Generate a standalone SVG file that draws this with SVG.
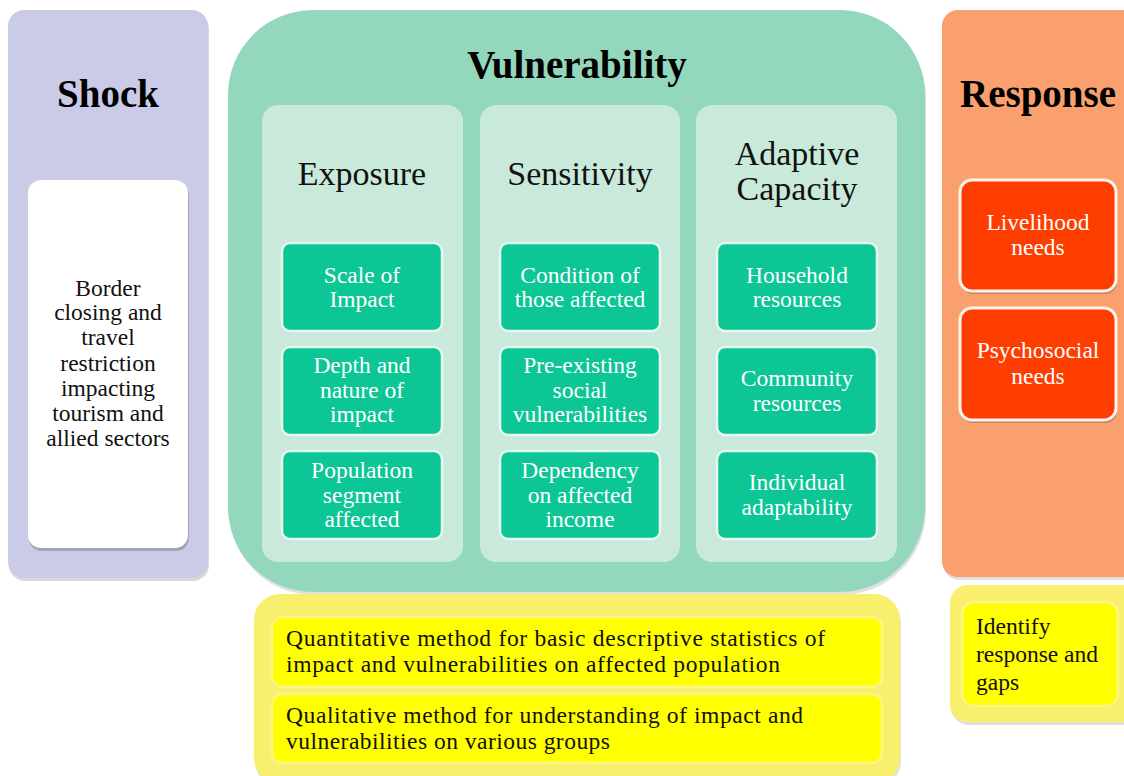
<svg xmlns="http://www.w3.org/2000/svg" width="1124" height="776" viewBox="0 0 1124 776">
<g id="shock">
<rect x="9" y="13" width="200" height="568" rx="16" fill="#000" opacity="0.15"/>
<rect x="8" y="10" width="200" height="568" rx="16" fill="#cacbe6"/>
<text x="108" y="107" font-family="Liberation Serif" font-size="39" font-weight="bold" text-anchor="middle" fill="#000">Shock</text>
<rect x="29" y="183" width="160" height="368" rx="13" fill="#000" opacity="0.2"/>
<rect x="28" y="180" width="160" height="368" rx="13" fill="#fff"/>
<g font-family="Liberation Serif" font-size="23.5" text-anchor="middle" fill="#111">
<text x="108" y="296" font-family="Liberation Serif">Border</text>
<text x="108" y="320" font-family="Liberation Serif">closing and</text>
<text x="108" y="345" font-family="Liberation Serif">travel</text>
<text x="108" y="371" font-family="Liberation Serif">restriction</text>
<text x="108" y="396" font-family="Liberation Serif">impacting</text>
<text x="108" y="421" font-family="Liberation Serif">tourism and</text>
<text x="108" y="446" font-family="Liberation Serif">allied sectors</text>
</g>
</g>
<g id="vulnerability">
<rect x="229" y="13" width="697" height="582" rx="85" fill="#000" opacity="0.12"/>
<rect x="228" y="10" width="697" height="582" rx="85" fill="#93d7bc"/>
<text x="577" y="78" font-family="Liberation Serif" font-size="39" font-weight="bold" text-anchor="middle" fill="#000">Vulnerability</text>
</g>
<g id="exposure" font-family="Liberation Serif" font-size="23.5" text-anchor="middle" fill="#fff">
<rect x="262" y="105" width="201" height="457" rx="16" fill="#c9eadb"/>
<text x="362" y="185" font-family="Liberation Serif" font-size="34" fill="#111">Exposure</text>
<rect x="282" y="243" width="160" height="88" rx="8" fill="#0cc696" stroke="#e6f7ef" stroke-width="2.5"/>
<text x="362" y="283" font-family="Liberation Serif">Scale of</text>
<text x="362" y="307" font-family="Liberation Serif">Impact</text>
<rect x="282" y="347" width="160" height="88" rx="8" fill="#0cc696" stroke="#e6f7ef" stroke-width="2.5"/>
<text x="362" y="373" font-family="Liberation Serif">Depth and</text>
<text x="362" y="398" font-family="Liberation Serif">nature of</text>
<text x="362" y="422" font-family="Liberation Serif">impact</text>
<rect x="282" y="451" width="160" height="88" rx="8" fill="#0cc696" stroke="#e6f7ef" stroke-width="2.5"/>
<text x="362" y="478" font-family="Liberation Serif">Population</text>
<text x="362" y="503" font-family="Liberation Serif">segment</text>
<text x="362" y="527" font-family="Liberation Serif">affected</text>
</g>
<g id="sensitivity" font-family="Liberation Serif" font-size="23.5" text-anchor="middle" fill="#fff">
<rect x="480" y="105" width="200" height="457" rx="16" fill="#c9eadb"/>
<text x="580" y="185" font-family="Liberation Serif" font-size="34" fill="#111">Sensitivity</text>
<rect x="500" y="243" width="160" height="88" rx="8" fill="#0cc696" stroke="#e6f7ef" stroke-width="2.5"/>
<text x="580" y="283" font-family="Liberation Serif">Condition of</text>
<text x="580" y="307" font-family="Liberation Serif">those affected</text>
<rect x="500" y="347" width="160" height="88" rx="8" fill="#0cc696" stroke="#e6f7ef" stroke-width="2.5"/>
<text x="580" y="373" font-family="Liberation Serif">Pre-existing</text>
<text x="580" y="398" font-family="Liberation Serif">social</text>
<text x="580" y="422" font-family="Liberation Serif">vulnerabilities</text>
<rect x="500" y="451" width="160" height="88" rx="8" fill="#0cc696" stroke="#e6f7ef" stroke-width="2.5"/>
<text x="580" y="478" font-family="Liberation Serif">Dependency</text>
<text x="580" y="503" font-family="Liberation Serif">on affected</text>
<text x="580" y="527" font-family="Liberation Serif">income</text>
</g>
<g id="adaptive" font-family="Liberation Serif" font-size="23.5" text-anchor="middle" fill="#fff">
<rect x="696" y="105" width="201" height="457" rx="16" fill="#c9eadb"/>
<text x="797" y="165" font-family="Liberation Serif" font-size="34" fill="#111">Adaptive</text>
<text x="797" y="200" font-family="Liberation Serif" font-size="34" fill="#111">Capacity</text>
<rect x="717" y="243" width="160" height="88" rx="8" fill="#0cc696" stroke="#e6f7ef" stroke-width="2.5"/>
<text x="797" y="283" font-family="Liberation Serif">Household</text>
<text x="797" y="307" font-family="Liberation Serif">resources</text>
<rect x="717" y="347" width="160" height="88" rx="8" fill="#0cc696" stroke="#e6f7ef" stroke-width="2.5"/>
<text x="797" y="386" font-family="Liberation Serif">Community</text>
<text x="797" y="411" font-family="Liberation Serif">resources</text>
<rect x="717" y="451" width="160" height="88" rx="8" fill="#0cc696" stroke="#e6f7ef" stroke-width="2.5"/>
<text x="797" y="490" font-family="Liberation Serif">Individual</text>
<text x="797" y="515" font-family="Liberation Serif">adaptability</text>
</g>
<g id="response" font-family="Liberation Serif" font-size="23.5" text-anchor="middle" fill="#fff">
<rect x="943" y="13" width="200" height="567" rx="16" fill="#000" opacity="0.12"/>
<rect x="942" y="10" width="200" height="567" rx="16" fill="#f9a06e"/>
<text x="1038" y="107" font-family="Liberation Serif" font-size="39" font-weight="bold" fill="#000">Response</text>
<rect x="961" y="183" width="156" height="111" rx="12" fill="#000" opacity="0.2"/>
<rect x="960" y="180" width="156" height="111" rx="12" fill="#fe3d00" stroke="#fff3ec" stroke-width="3"/>
<text x="1038" y="230" font-family="Liberation Serif">Livelihood</text>
<text x="1038" y="255" font-family="Liberation Serif">needs</text>
<rect x="961" y="311" width="156" height="112" rx="12" fill="#000" opacity="0.2"/>
<rect x="960" y="308" width="156" height="112" rx="12" fill="#fe3d00" stroke="#fff3ec" stroke-width="3"/>
<text x="1038" y="358" font-family="Liberation Serif">Psychosocial</text>
<text x="1038" y="384" font-family="Liberation Serif">needs</text>
</g>
<g id="methods" font-family="Liberation Serif" font-size="23.5" fill="#111">
<rect x="255" y="597" width="646" height="190" rx="26" fill="#000" opacity="0.12"/>
<rect x="254" y="594" width="646" height="190" rx="26" fill="#f8f06c"/>
<rect x="272" y="617" width="610" height="70" rx="10" fill="#ffff00" stroke="#fbf58a" stroke-width="2.5"/>
<text x="286" y="646" font-family="Liberation Serif" textLength="539" lengthAdjust="spacing">Quantitative method for basic descriptive statistics of</text>
<text x="286" y="672" font-family="Liberation Serif" textLength="494" lengthAdjust="spacing">impact and vulnerabilities on affected population</text>
<rect x="272" y="694" width="610" height="69" rx="10" fill="#ffff00" stroke="#fbf58a" stroke-width="2.5"/>
<text x="286" y="723" font-family="Liberation Serif" textLength="517" lengthAdjust="spacing">Qualitative method for understanding of impact and</text>
<text x="286" y="749" font-family="Liberation Serif" textLength="324" lengthAdjust="spacing">vulnerabilities on various groups</text>
</g>
<g id="identify" font-family="Liberation Serif" font-size="23.5" fill="#111">
<rect x="951" y="588" width="190" height="137" rx="18" fill="#000" opacity="0.12"/>
<rect x="950" y="585" width="190" height="137" rx="18" fill="#f8f06c"/>
<rect x="962" y="602" width="156" height="104" rx="12" fill="#ffff00" stroke="#fbf58a" stroke-width="2.5"/>
<text x="976" y="634" font-family="Liberation Serif">Identify</text>
<text x="976" y="662" font-family="Liberation Serif">response and</text>
<text x="976" y="690" font-family="Liberation Serif">gaps</text>
</g>
<g id="connectors"></g>
</svg>
